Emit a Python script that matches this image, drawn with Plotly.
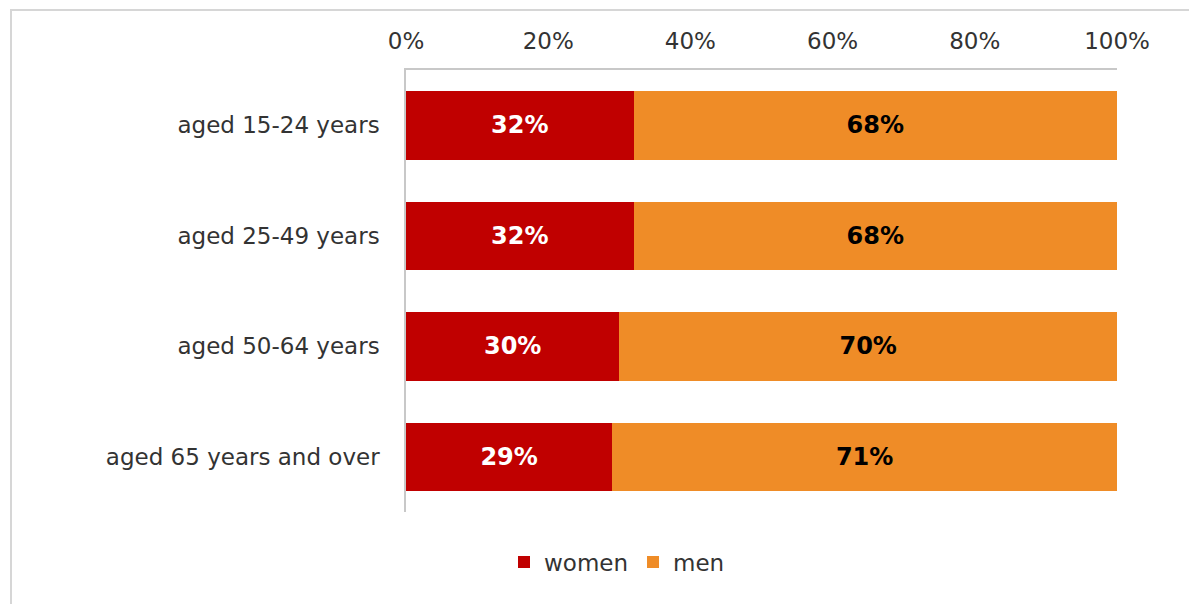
import plotly.graph_objects as go

categories = ["aged 15-24 years", "aged 25-49 years", "aged 50-64 years", "aged 65 years and over"]
women = [32, 32, 30, 29]
men = [68, 68, 70, 71]
tick_vals = [0, 20, 40, 60, 80, 100]
tick_text = ["0%", "20%", "40%", "60%", "80%", "100%"]

FONT = "DejaVu Sans, Verdana, sans-serif"

# page body has an 8px margin; work in screen coordinates and shift
OFF = 8
W, H = 1197 - OFF, 612 - 2 * OFF
X0, X1, Y0, Y1 = 406, 1117, 70, 512  # plot area in screen px
L, R, T, B = X0 - OFF, (W + OFF) - X1, Y0 - OFF, (H + OFF) - Y1
pw, ph = X1 - X0, Y1 - Y0

def px(x):
    return (x - X0) / pw

def py(y):
    return (Y1 - y) / ph

fig = go.Figure()
fig.add_trace(go.Bar(
    y=categories, x=women, name="women", orientation="h",
    marker=dict(color="#C00000", line=dict(width=0)),
    texttemplate="%{x}%", textposition="inside", insidetextanchor="middle",
    textfont=dict(family=FONT, size=24, color="white", weight="bold"),
    hoverinfo="skip",
))
fig.add_trace(go.Bar(
    y=categories, x=men, name="men", orientation="h",
    marker=dict(color="#EF8C27", line=dict(width=0)),
    texttemplate="%{x}%", textposition="inside", insidetextanchor="middle",
    textfont=dict(family=FONT, size=24, color="black", weight="bold"),
    hoverinfo="skip",
))

fig.update_layout(
    barmode="stack",
    bargap=0.38,
    width=W, height=H,
    margin=dict(l=L, r=R, t=T, b=B),
    paper_bgcolor="white", plot_bgcolor="white",
    font=dict(family=FONT, size=23, color="#333333"),
    showlegend=True,
    legend=dict(orientation="h", x=px(617), xanchor="center", y=py(562), yanchor="middle",
                font=dict(family=FONT, size=23, color="#333333"), traceorder="normal",
                itemwidth=30),
    xaxis=dict(side="top", range=[0, 100], tickvals=tick_vals, ticktext=tick_text,
               showgrid=False, zeroline=False, showline=True, linecolor="#c8c8c8", linewidth=1.5,
               ticks="", ticklabelstandoff=10, fixedrange=True,
               tickfont=dict(family=FONT, size=23, color="#333333")),
    yaxis=dict(autorange="reversed", showgrid=False, zeroline=False, showline=True,
               linecolor="#c8c8c8", linewidth=1.5, ticks="", ticklabelstandoff=20,
               tickfont=dict(family=FONT, size=23, color="#333333")),
    shapes=[dict(type="rect", xref="paper", yref="paper",
                 x0=px(11), x1=px(1195), y0=py(640), y1=py(10),
                 line=dict(color="#d6d6d6", width=2), layer="below")],
)

fig.write_html("out.html")
